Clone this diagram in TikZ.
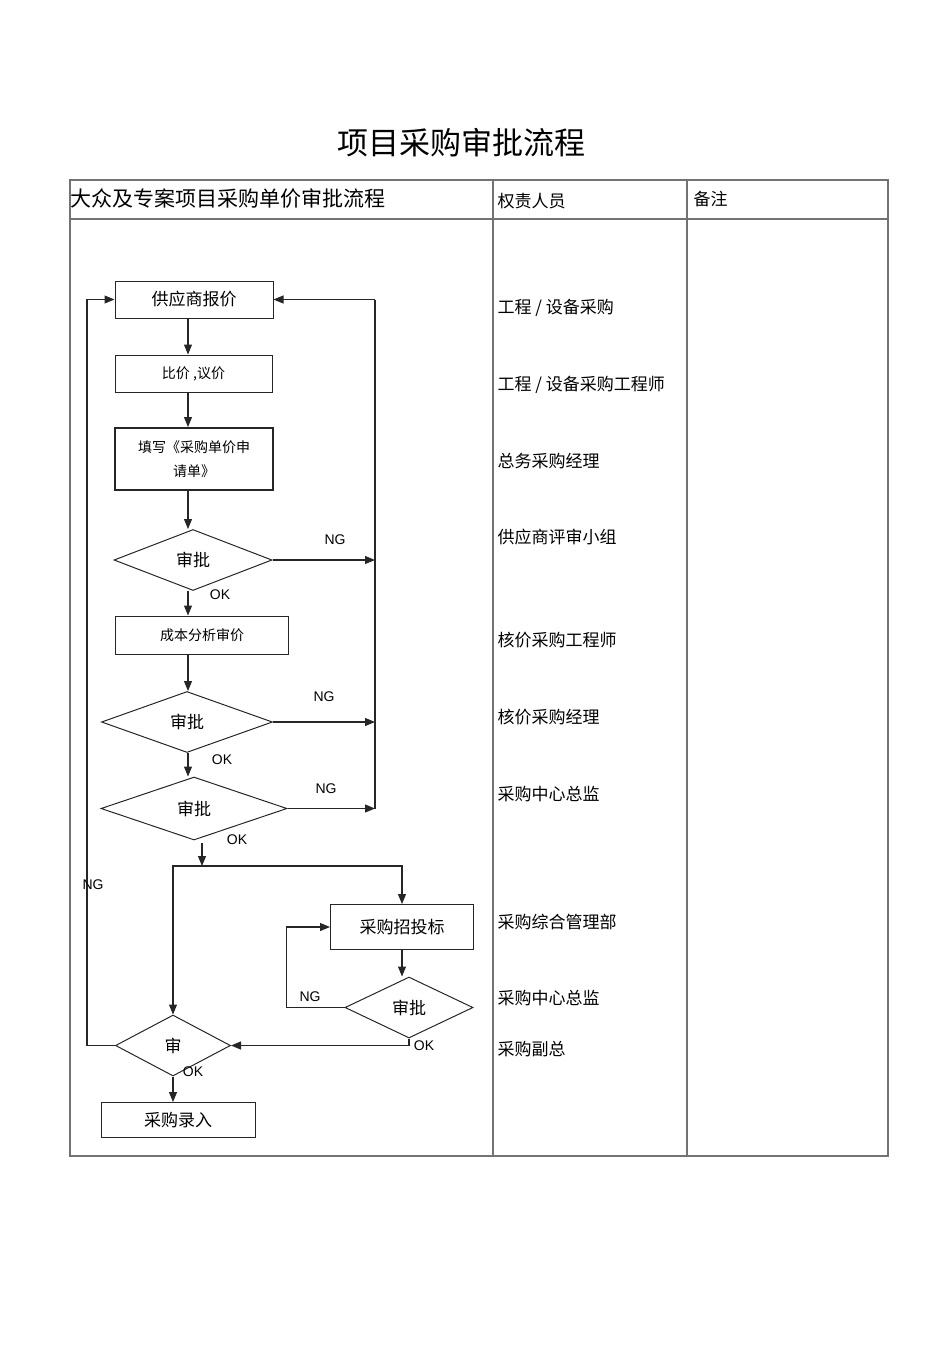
\documentclass[tikz,border=0pt]{standalone}
\usepackage{fontspec}
\setmainfont{Liberation Sans}
\newfontfamily\cjk{Noto Sans CJK SC}
\usetikzlibrary{positioning,shapes.geometric,arrows.meta}

\begin{document}
\begin{tikzpicture}[
    x=1pt, y=-1pt,
    line width=1pt,
    >={Triangle[length=10pt,width=8pt]},
    box/.style={rectangle, draw=black!85, inner sep=0pt, font=\cjk\fontsize{17}{20}\selectfont},
    check/.style={diamond, draw=black!85, inner sep=0pt, aspect=2.6, font=\cjk\fontsize{17}{20}\selectfont},
    arrow/.style={->, draw=black!85, line width=1.1pt},
    grid/.style={draw=black!55, line width=1.3pt},
    duty/.style={anchor=west, inner sep=0pt, font=\cjk\fontsize{17}{20}\selectfont},
    tag/.style={inner sep=0pt, font=\fontsize{14}{16}\selectfont}
]
\useasboundingbox (0,0) rectangle (950,1345);

% Title
\node[font=\cjk\fontsize{31}{36}\selectfont] (title) at (461,143) {项目采购审批流程};

% Table frame
\draw[grid] (70,180) rectangle (888,1156);
\draw[grid] (70,219) -- (888,219);
\draw[grid] (493,180) -- (493,1156);
\draw[grid] (687,180) -- (687,1156);

% Header
\node[duty, font=\cjk\fontsize{21}{24}\selectfont] (head1) at (70,199) {大众及专案项目采购单价审批流程};
\node[duty] (head2) at (497,201) {权责人员};
\node[duty] (head3) at (693,199) {备注};

% Responsible persons
\foreach \y/\who [count=\i] in {308/{工程 / 设备采购}, 385/{工程 / 设备采购工程师}, 461/{总务采购经理},
    537/{供应商评审小组}, 640/{核价采购工程师}, 717/{核价采购经理}, 794/{采购中心总监},
    922/{采购综合管理部}, 998/{采购中心总监}, 1049/{采购副总}}
  \node[duty] (duty\i) at (497,\y) {\who};

% Main blocks
\node[box, minimum width=158, minimum height=37] (quote) at (194,299.5) {供应商报价};
\node[box, minimum width=157, minimum height=37, font=\cjk\fontsize{14}{17}\selectfont] (compare) at (193.5,373.5) {比价 ,议价};
\node[box, minimum width=158, minimum height=62, line width=2pt, align=center, font=\cjk\fontsize{14}{24}\selectfont] (apply) at (194,459) {填写《采购单价申\\请单》};
\node[check, minimum width=158, minimum height=61] (check1) at (193,560) {审批};
\node[box, minimum width=173, minimum height=38, font=\cjk\fontsize{14}{17}\selectfont] (cost) at (202,635) {成本分析审价};
\node[check, minimum width=171, minimum height=61] (check2) at (187,722) {审批};
\node[check, minimum width=186, minimum height=63] (check3) at (194,808.5) {审批};
\node[box, minimum width=143, minimum height=45] (bid) at (402,927) {采购招投标};
\node[check, minimum width=128, minimum height=61] (check5) at (409,1007.5) {审批};
\node[check, minimum width=115, minimum height=61] (check4) at (173,1045.5) {审};
\node[box, minimum width=154, minimum height=35] (entry) at (178,1120) {采购录入};

% Helper points
\coordinate (spine) at (188,0);
\coordinate (rail) at (375,299.5);
\coordinate (okout) at (202,843);
\coordinate (split) at (202,866);

% Forward path
\foreach \a/\b in {quote/compare, compare/apply, apply/check1, check1/cost, cost/check2, check2/check3}
  \draw[arrow] (\a.south -| spine) -- (\b.north -| spine);
\draw[arrow] (okout) -- (split);
\draw[<->, draw=black!85, line width=1.1pt]
  (check4.north) -- (check4.north |- split) -- (bid.north |- split) -- (bid.north);
\draw[arrow] (bid.south) -- (bid.south |- check5.north);
\draw[arrow] (check5.south) |- (check4.east);
\draw[arrow] (check4.south) -- (check4.south |- entry.north);

% NG returns
\draw[draw=black!85, line width=1.1pt] (check3.east -| rail) -- (rail);
\draw[arrow] (rail) -- (quote.east);
\foreach \c in {check1, check2, check3}
  \draw[arrow] (\c.east) -- (\c.east -| rail);
\draw[arrow] (check5.west) -- ++(-58,0) |- (bid.west);
\draw[arrow] (check4.west) -- ++(-28,0) |- (quote.west);

% Labels
\node[tag] (ok1) at (220,595) {OK};
\node[tag] (ok2) at (222,760) {OK};
\node[tag] (ok3) at (237,840) {OK};
\node[tag] (ok4) at (424,1046) {OK};
\node[tag] (ok5) at (193,1072) {OK};
\node[tag] (ng1) at (335,540) {NG};
\node[tag] (ng2) at (324,697) {NG};
\node[tag] (ng3) at (326,789) {NG};
\node[tag] (ng4) at (93,885) {NG};
\node[tag] (ng5) at (310,997) {NG};

\end{tikzpicture}
\end{document}
